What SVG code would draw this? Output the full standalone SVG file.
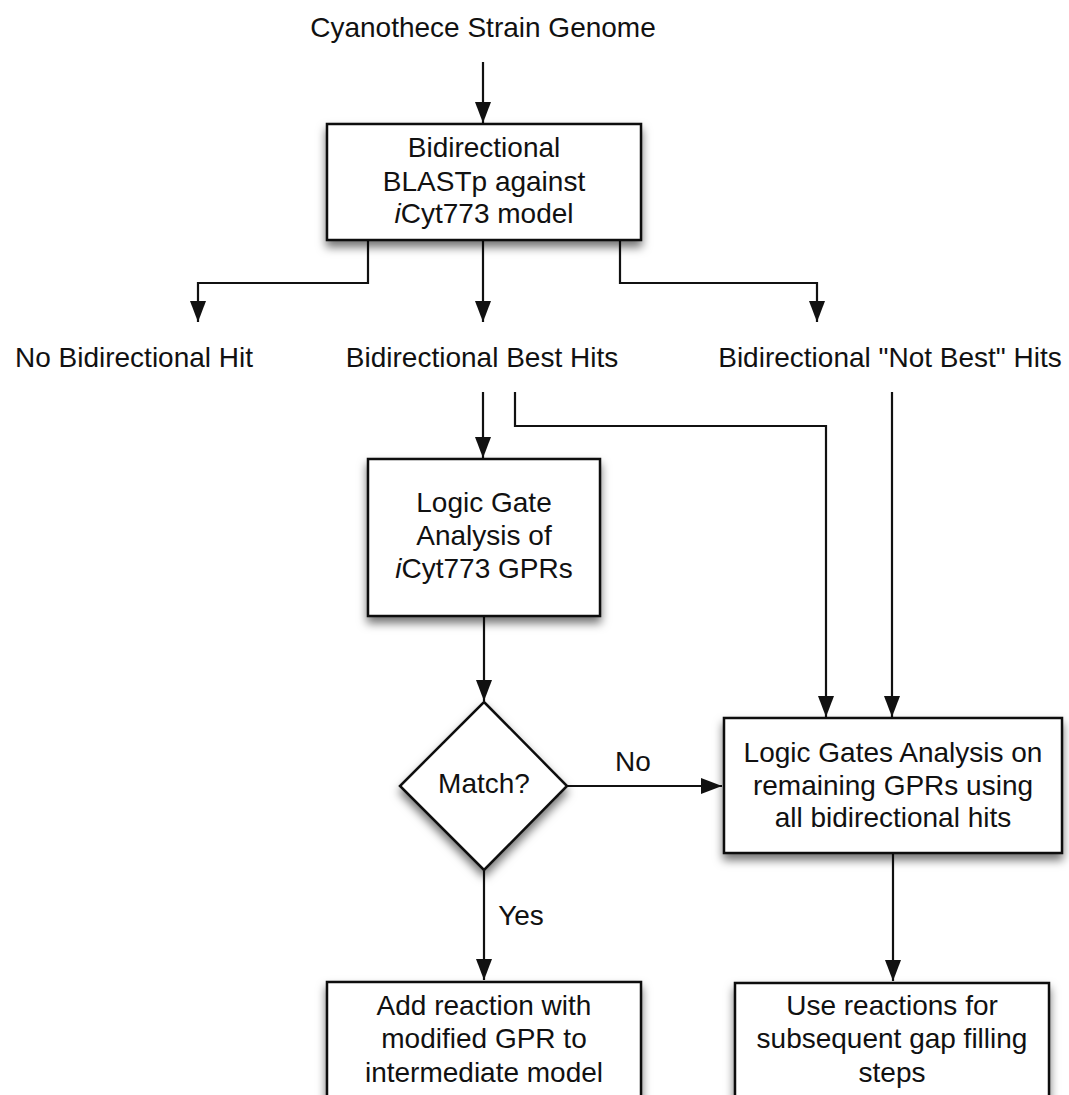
<svg xmlns="http://www.w3.org/2000/svg" width="1069" height="1095" viewBox="0 0 1069 1095">
<style>
  text { font-family: "Liberation Sans", Arial, Helvetica, sans-serif; font-size: 28px; fill: #111; text-anchor: middle; }
  .box { fill: #fff; stroke: #111; stroke-width: 2.5; filter: url(#shadow); }
  .conn { fill: none; stroke: #111; stroke-width: 2.2; marker-end: url(#arrow); }
</style>
<defs>
  <marker id="arrow" markerUnits="userSpaceOnUse" markerWidth="24" markerHeight="18" refX="21" refY="8" orient="auto">
    <path d="M0,0 L21,8 L0,16 z" fill="#111"/>
  </marker>
  <filter id="shadow" x="-20%" y="-20%" width="140%" height="150%">
    <feDropShadow dx="0" dy="6" stdDeviation="5" flood-color="#000" flood-opacity="0.55"/>
  </filter>
</defs>
<rect width="1069" height="1095" fill="#fff"/>

<g id="connectors">
  <path class="conn" d="M483,62 L483,123"/>
  <path class="conn" d="M368,240 L368,283 L198,283 L198,322"/>
  <path class="conn" d="M483,240 L483,322"/>
  <path class="conn" d="M620,240 L620,283 L817,283 L817,322"/>
  <path class="conn" d="M483,392 L483,458"/>
  <path class="conn" d="M515,392 L515,426 L826,426 L826,717"/>
  <path class="conn" d="M892,392 L892,717"/>
  <path class="conn" d="M484,616 L484,701"/>
  <path class="conn" d="M567,786 L722,786"/>
  <path class="conn" d="M484,870 L484,980"/>
  <path class="conn" d="M893,853 L893,981"/>
</g>

<g id="start"><text x="483" y="37">Cyanothece Strain Genome</text></g>

<g id="blast">
  <rect class="box" x="327" y="124" width="314" height="116"/>
  <text x="484" y="157">Bidirectional</text>
  <text x="484" y="191">BLASTp against</text>
  <text x="484" y="223"><tspan font-style="italic">i</tspan>Cyt773 model</text>
</g>

<g id="nohit"><text x="134" y="367">No Bidirectional Hit</text></g>
<g id="besthits"><text x="482" y="367">Bidirectional Best Hits</text></g>
<g id="notbest"><text x="890" y="367">Bidirectional "Not Best" Hits</text></g>

<g id="logicgate">
  <rect class="box" x="368" y="459" width="232" height="157"/>
  <text x="484" y="512">Logic Gate</text>
  <text x="484" y="545">Analysis of</text>
  <text x="484" y="578"><tspan font-style="italic">i</tspan>Cyt773 GPRs</text>
</g>

<g id="match">
  <path class="box" d="M484,702 L567,786 L484,870 L400,786 Z"/>
  <text x="484" y="793">Match?</text>
</g>

<g id="labels">
  <text x="633" y="771">No</text>
  <text x="521" y="925">Yes</text>
</g>

<g id="remaining">
  <rect class="box" x="724" y="718" width="338" height="135"/>
  <text x="893" y="762">Logic Gates Analysis on</text>
  <text x="893" y="795">remaining GPRs using</text>
  <text x="893" y="827">all bidirectional hits</text>
</g>

<g id="addreaction">
  <rect class="box" x="327" y="982" width="314" height="140"/>
  <text x="484" y="1015">Add reaction with</text>
  <text x="484" y="1048">modified GPR to</text>
  <text x="484" y="1082">intermediate model</text>
</g>

<g id="usereactions">
  <rect class="box" x="735" y="983" width="314" height="140"/>
  <text x="892" y="1015">Use reactions for</text>
  <text x="892" y="1048">subsequent gap filling</text>
  <text x="892" y="1082">steps</text>
</g>
</svg>
